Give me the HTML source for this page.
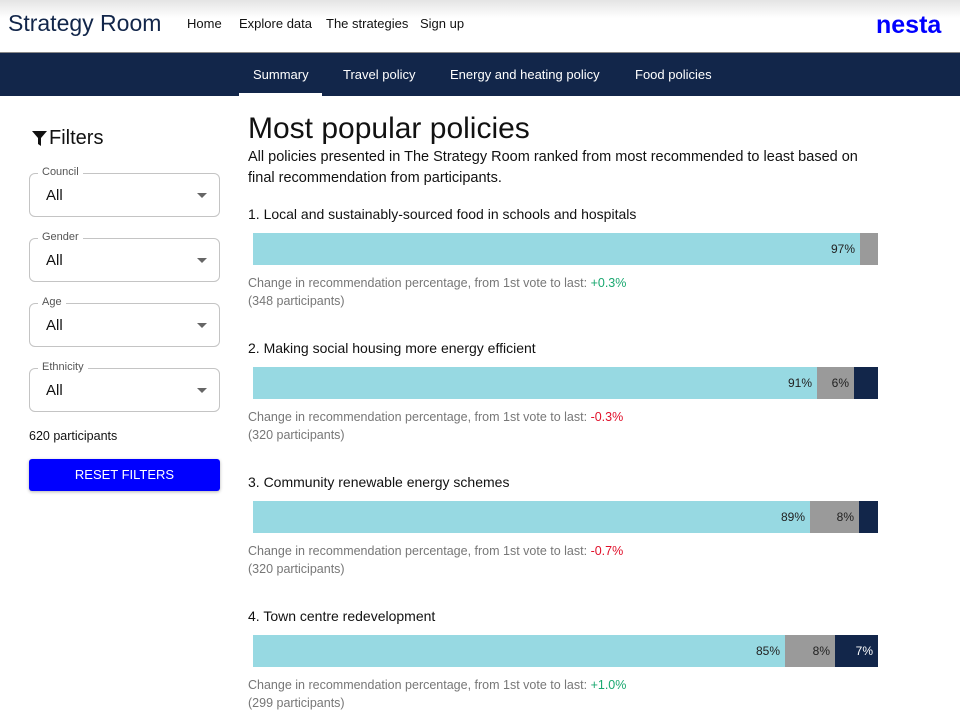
<!DOCTYPE html>
<html><head><meta charset="utf-8"><style>
*{box-sizing:border-box;margin:0;padding:0}
body{width:960px;height:727px;overflow:hidden;background:#fff;font-family:"Liberation Sans",sans-serif;color:#111;position:relative}
.abs{position:absolute;white-space:nowrap}
.top{position:absolute;left:0;top:0;width:960px;height:53px;background:linear-gradient(#e4e4e4 0px,#fff 18px,#fff 100%);border-bottom:1px solid #888}
.nav{position:absolute;left:0;top:53px;width:960px;height:43px;background:#12264a}
.nav span{position:absolute;top:14px;color:#fff;font-size:13px}
.sel{position:absolute;left:29px;width:191px;height:44px;border:1px solid #c4c4c4;border-radius:6px}
.sel .lab{position:absolute;left:8px;top:-8px;background:#fff;padding:0 4px;font-size:11px;color:#555}
.sel .v{position:absolute;left:16px;top:13px;font-size:15px}
.sel .ar{position:absolute;right:12px;top:19px;width:0;height:0;border-left:5px solid transparent;border-right:5px solid transparent;border-top:5px solid #666}
.bar{position:absolute;left:253px;height:32px;display:flex;font-size:12px;color:#222}
.bar div{height:100%;display:flex;align-items:center;justify-content:flex-end;padding-right:5px}
.t{font-size:14px;color:#111}
.c{font-size:12.5px;color:#777}
.g{color:#1aa870}.r{color:#e0102a}
</style></head><body>
<div class="top"></div>
<div class="abs" style="left:8px;top:10px;font-size:23px;color:#12264a">Strategy Room</div>
<div class="abs" style="left:187px;top:16px;font-size:13px">Home</div>
<div class="abs" style="left:239px;top:16px;font-size:13px">Explore data</div>
<div class="abs" style="left:326px;top:16px;font-size:13px">The strategies</div>
<div class="abs" style="left:420px;top:16px;font-size:13px">Sign up</div>
<div class="abs" style="left:876px;top:11px;font-size:25px;font-weight:bold;color:#0000ff">nesta</div>
<div class="nav">
<span style="left:253px">Summary</span>
<span style="left:343px">Travel policy</span>
<span style="left:450px">Energy and heating policy</span>
<span style="left:635px">Food policies</span>
<div style="position:absolute;left:239px;top:40px;width:83px;height:3px;background:#fff"></div>
</div>
<svg class="abs" style="left:32px;top:131px" width="15" height="15" viewBox="0 0 15 15"><path d="M0 0H15L9 7V15L6 13V7Z" fill="#111"/></svg>
<div class="abs" style="left:49px;top:127px;font-size:20px">Filters</div>
<div class="sel" style="top:173px"><span class="lab">Council</span><span class="v">All</span><span class="ar"></span></div>
<div class="sel" style="top:238px"><span class="lab">Gender</span><span class="v">All</span><span class="ar"></span></div>
<div class="sel" style="top:303px"><span class="lab">Age</span><span class="v">All</span><span class="ar"></span></div>
<div class="sel" style="top:368px"><span class="lab">Ethnicity</span><span class="v">All</span><span class="ar"></span></div>
<div class="abs" style="left:29px;top:429px;font-size:12.5px">620 participants</div>
<div class="abs" style="left:29px;top:459px;width:191px;height:32px;background:#0000ff;border-radius:3px;color:#fff;font-size:13px;text-align:center;line-height:32px;box-shadow:0 1px 3px rgba(0,0,0,.3)">RESET FILTERS</div>

<div class="abs" style="left:248px;top:112px;font-size:30px">Most popular policies</div>
<div class="abs" style="left:248px;top:147px;font-size:14.5px;line-height:21px">All policies presented in The Strategy Room ranked from most recommended to least based on<br>final recommendation from participants.</div>

<div class="abs t" style="left:248px;top:206px">1. Local and sustainably-sourced food in schools and hospitals</div>
<div class="bar" style="top:233px"><div style="width:607px;background:#97d9e2">97%</div><div style="width:18px;background:#9a9a9a"></div></div>
<div class="abs c" style="left:248px;top:276px">Change in recommendation percentage, from 1st vote to last: <span class="g">+0.3%</span></div>
<div class="abs c" style="left:248px;top:294px">(348 participants)</div>

<div class="abs t" style="left:248px;top:340px">2. Making social housing more energy efficient</div>
<div class="bar" style="top:367px"><div style="width:564px;background:#97d9e2">91%</div><div style="width:37px;background:#9a9a9a">6%</div><div style="width:24px;background:#12264a"></div></div>
<div class="abs c" style="left:248px;top:410px">Change in recommendation percentage, from 1st vote to last: <span class="r">-0.3%</span></div>
<div class="abs c" style="left:248px;top:428px">(320 participants)</div>

<div class="abs t" style="left:248px;top:474px">3. Community renewable energy schemes</div>
<div class="bar" style="top:501px"><div style="width:557px;background:#97d9e2">89%</div><div style="width:49px;background:#9a9a9a">8%</div><div style="width:19px;background:#12264a"></div></div>
<div class="abs c" style="left:248px;top:544px">Change in recommendation percentage, from 1st vote to last: <span class="r">-0.7%</span></div>
<div class="abs c" style="left:248px;top:562px">(320 participants)</div>

<div class="abs t" style="left:248px;top:608px">4. Town centre redevelopment</div>
<div class="bar" style="top:635px"><div style="width:532px;background:#97d9e2">85%</div><div style="width:50px;background:#9a9a9a">8%</div><div style="width:43px;background:#12264a;color:#fff">7%</div></div>
<div class="abs c" style="left:248px;top:678px">Change in recommendation percentage, from 1st vote to last: <span class="g">+1.0%</span></div>
<div class="abs c" style="left:248px;top:696px">(299 participants)</div>
</body></html>
